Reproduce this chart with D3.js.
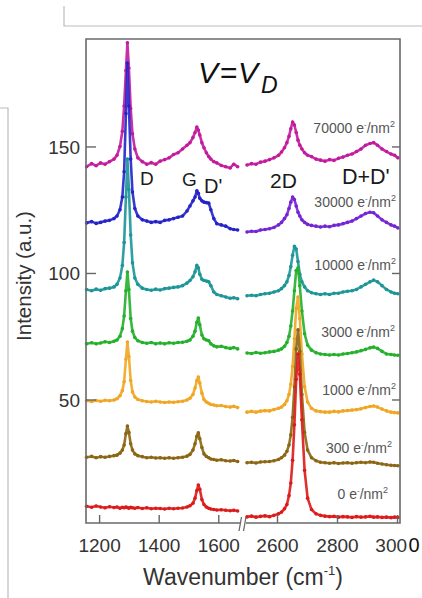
<!doctype html>
<html lang="en">
  <head>
    <meta charset="utf-8">
    <style>
body { margin: 0; background: #fff; }
svg { display: block; font-family: "Liberation Sans", Arial, sans-serif; }
.tick line { stroke: #666; stroke-width: 1.4; }
.tick text { fill: #333; font-size: 19px; }
    </style>
    <script src="https://cdn.jsdelivr.net/npm/d3@7"></script>
  </head>
  <body>
    <div id="chart"></div>
    <script>
//=============================== DATA ===================================
var wnLeft  = [1158,1175,1190,1205,1220,1235,1250,1260,1270,1278,1284,1290,1295,1300,1306,1312,1320,1330,1345,1360,1375,1390,1405,1420,1435,1450,1465,1480,1495,1505,1515,1522,1528,1533,1538,1545,1552,1560,1568,1575,1585,1595,1610,1625,1640,1652,1665]
var wnRight = [2500,2515,2530,2545,2560,2575,2590,2605,2615,2625,2633,2640,2646,2652,2658,2664,2670,2676,2683,2692,2702,2715,2730,2745,2760,2775,2790,2805,2820,2835,2850,2865,2880,2895,2910,2922,2935,2950,2965,2980,2992,3003]

var doses = ['70000', '30000', '10000', '3000', '1000', '300', '0']

var left70000 = [142.0,143.2,142.4,143.5,143.0,144.0,145.0,146.5,150.0,156.0,166.0,180.0,191.0,181.0,165.0,155.0,149.0,145.5,144.0,143.0,143.6,143.0,144.2,144.8,145.5,146.8,147.5,149.0,150.5,151.5,153.5,155.5,157.7,156.5,154.5,151.5,149.5,147.5,146.0,145.0,144.0,143.5,142.5,142.0,141.5,143.0,142.0]
var right70000 = [142.7,143.2,143.0,143.8,144.2,144.8,145.5,146.5,147.8,149.5,151.5,154.0,157.0,159.7,158.5,155.5,152.5,150.5,149.0,147.5,146.5,146.0,145.0,144.6,144.2,144.8,144.5,145.3,145.8,146.5,147.0,148.0,149.0,150.5,151.2,151.5,150.5,149.0,148.0,147.0,146.5,145.5]

var left30000 = [119.8,120.3,119.6,120.0,120.5,120.8,121.5,122.5,125.0,130.0,140.0,163.0,183.0,166.0,145.0,132.0,125.5,122.5,121.0,120.5,120.0,120.3,120.0,120.8,121.0,121.5,122.0,122.5,124.5,126.5,128.5,130.0,132.5,131.5,129.5,128.5,128.0,127.8,127.6,125.0,121.5,119.5,119.0,118.5,117.5,117.2,117.0]
var right30000 = [116.2,116.5,116.4,117.0,117.2,117.5,118.0,119.0,120.0,121.5,123.0,125.5,128.0,130.0,129.0,126.5,124.0,122.5,121.0,120.0,119.2,118.8,118.5,118.2,118.5,118.3,118.8,119.0,119.5,120.0,120.5,121.5,122.5,123.5,124.0,123.8,122.5,121.0,120.0,119.0,118.5,117.8]

var left10000 = [93.5,93.0,93.6,93.2,93.8,94.0,94.5,95.5,98.0,103.0,112.0,130.0,145.0,133.0,115.0,104.0,98.0,95.5,94.0,93.5,93.2,93.6,93.3,93.8,94.0,94.3,94.5,95.0,96.0,97.0,98.5,100.5,103.0,102.0,99.5,97.5,97.0,96.8,96.5,95.0,92.5,91.5,91.0,90.5,90.0,90.2,89.8]
var right10000 = [91.0,91.2,91.0,91.5,91.8,92.0,92.5,93.0,93.8,95.0,96.5,99.0,102.5,107.0,110.5,109.5,104.5,99.5,96.5,94.5,93.0,92.2,91.8,91.5,91.8,91.5,92.0,92.0,92.5,92.8,93.0,93.5,94.5,95.5,96.5,97.2,96.5,95.0,93.5,92.5,92.0,91.8]

var left3000 = [72.0,72.4,72.0,72.3,72.8,72.5,73.0,73.5,75.0,78.0,83.0,93.0,100.4,93.5,82.0,77.0,74.5,73.2,72.5,72.2,72.5,72.0,72.3,72.0,72.4,72.2,72.5,72.6,73.0,73.5,75.0,77.0,80.5,82.2,79.5,75.5,74.0,73.5,73.2,72.0,71.2,70.8,71.0,70.5,70.2,70.5,70.0]
var right3000 = [68.4,68.2,68.6,68.3,68.5,68.8,69.0,69.5,70.0,71.0,72.5,75.0,79.0,85.0,93.0,101.0,102.0,95.0,85.0,76.0,71.5,69.5,68.5,68.0,67.8,67.6,67.8,67.6,68.0,68.2,68.5,68.8,69.3,69.8,70.4,70.7,70.2,69.0,68.0,67.8,67.6,67.5]

var left1000 = [49.5,49.2,49.6,49.3,49.7,49.5,49.8,50.3,51.5,53.5,57.0,66.0,72.7,67.0,57.5,53.0,51.0,50.0,49.5,49.2,49.0,49.3,49.0,48.8,49.0,48.9,49.1,49.3,49.8,50.5,52.0,54.5,57.5,58.9,56.5,52.5,50.0,49.0,48.5,48.0,47.8,47.5,47.6,47.2,47.0,47.3,46.8]
var right1000 = [45.0,45.3,45.0,45.4,45.6,45.5,46.0,46.5,47.0,48.0,49.5,52.0,56.0,63.0,74.0,86.0,90.5,82.0,68.0,55.0,49.0,46.5,45.5,45.2,45.0,45.0,45.3,45.1,45.5,45.6,45.8,46.0,46.3,46.8,47.2,47.4,47.0,46.2,45.5,45.0,44.8,44.7]

var left300 = [27.2,27.5,27.0,27.4,27.2,27.5,27.8,28.0,28.8,30.0,32.0,36.5,39.5,37.0,32.5,30.0,28.5,27.8,27.4,27.0,27.2,26.9,27.0,26.8,27.0,26.8,27.0,27.2,27.6,28.3,30.0,32.5,35.5,36.8,34.5,31.0,28.5,27.5,27.0,26.5,26.3,26.0,26.2,25.8,25.7,25.9,25.5]
var right300 = [25.0,25.2,24.9,25.3,25.4,25.5,25.8,26.3,27.0,28.0,29.5,32.0,36.0,43.0,55.0,70.0,77.5,69.0,52.0,37.0,30.0,27.0,25.8,25.2,25.0,24.8,25.0,24.7,24.9,25.0,24.8,25.0,25.2,25.0,25.3,25.2,24.8,24.5,24.2,24.0,23.9,23.8]

var left0 = [7.8,7.4,7.9,7.5,7.2,7.6,7.3,7.5,7.0,7.4,7.2,7.5,7.3,7.0,7.4,7.2,7.0,7.3,6.9,7.2,6.8,7.0,6.9,6.7,7.0,6.8,7.0,7.1,7.5,8.0,9.0,11.0,14.0,16.2,14.5,10.5,8.5,7.5,7.0,6.7,6.5,6.3,6.4,6.2,6.0,6.2,5.9]
var right0 = [3.6,3.9,3.5,3.8,4.0,3.7,4.2,4.8,5.5,6.8,8.5,12.0,17.0,26.0,40.0,58.0,68.0,60.0,42.0,22.0,11.0,6.5,4.8,4.2,3.9,3.7,3.8,3.5,3.7,3.6,3.4,3.7,3.5,3.6,3.8,3.5,3.6,3.4,3.5,3.3,3.5,3.4]

var leftSeries  = [left70000, left30000, left10000, left3000, left1000, left300, left0]
var rightSeries = [right70000, right30000, right10000, right3000, right1000, right300, right0]

var colorsLeft  = ['#c21a9c', '#2323c9', '#1b9597', '#23b02a', '#f0a622', '#8b6612', '#dc1a1a']
var colorsRight = ['#c21a9c', '#7424d2', '#1b9597', '#23b02a', '#f0a622', '#8b6612', '#dc1a1a']

var yTicks = [50, 100, 150]
var xTicksLeft = [1200, 1400, 1600]
var xTicksRight = [2600, 2800, 3000]

// label layout: [x end, baseline]
var labelPos = [[395,133],[396,207],[396,270],[395,337],[396,395],[392,453],[388,499]]

//=============================== DRAW ===================================
var W = 422, H = 598
var svg = d3.select('#chart').append('svg').attr('width', W).attr('height', H)

var x0 = 86, x1 = 400, yTop = 39, yBot = 523
var xL = d3.scaleLinear().domain([1156, 1683]).range([x0, 243])
var xR = d3.scaleLinear().domain([2490, 3010]).range([244, x1])
var y  = d3.scaleLinear().domain([0, 192]).range([526, 40.2])

// page decoration lines
svg.append('path').attr('d', 'M64,6V26H422').attr('fill', 'none').attr('stroke', '#bbb').attr('stroke-width', 1.2)
svg.append('path').attr('d', 'M0,108H8V598').attr('fill', 'none').attr('stroke', '#bbb').attr('stroke-width', 1.2)

// spectra
function drawSpectrum(wn, vals, sx, color) {
	var pts = wn.map((w, i) => [sx(w), y(vals[i])])
	svg.append('path').datum(pts)
		.attr('d', d3.line())
		.attr('fill', 'none').attr('stroke', color)
		.attr('stroke-width', 2.6).attr('stroke-opacity', 0.9)
		.attr('stroke-linejoin', 'round')
	svg.append('g').selectAll('circle').data(pts).enter()
		.append('circle')
		.attr('cx', d => d[0]).attr('cy', d => d[1])
		.attr('r', 1.8).attr('fill', color)
}
doses.forEach((d, i) => {
	drawSpectrum(wnLeft, leftSeries[i], xL, colorsLeft[i])
	drawSpectrum(wnRight, rightSeries[i], xR, colorsRight[i])
})

// frame
var frame = '#6a6a6a'
svg.append('path')
	.attr('d', `M240,${yBot}H${x0}V${yTop}H${x1}V${yBot}H246`)
	.attr('fill', 'none').attr('stroke', frame).attr('stroke-width', 1.6)
svg.append('path')
	.attr('d', `M239,531L241.5,517M243.5,531L246,517`)
	.attr('fill', 'none').attr('stroke', frame).attr('stroke-width', 1.3)

// axes
var fmt = d3.format('d')
var gl = svg.append('g').attr('transform', `translate(${x0},0)`)
	.call(d3.axisLeft(y).tickValues(yTicks).tickFormat(fmt).tickSize(-10).tickPadding(6))
var gr = svg.append('g').attr('transform', `translate(${x1},0)`)
	.call(d3.axisRight(y).tickValues(yTicks).tickSize(-8).tickFormat(''))
var gbl = svg.append('g').attr('transform', `translate(0,${yBot})`)
	.call(d3.axisBottom(xL).tickValues(xTicksLeft).tickFormat(fmt).tickSize(-8).tickPadding(16))
var gbr = svg.append('g').attr('transform', `translate(0,${yBot})`)
	.call(d3.axisBottom(xR).tickValues(xTicksRight).tickFormat(fmt).tickSize(-8).tickPadding(16))
;[gl, gr, gbl, gbr].forEach(g => {
	g.select('.domain').remove()
	g.selectAll('text').attr('font-family', null).attr('font-size', null)
})
gl.selectAll('text').attr('dy', '0.36em')

// the last 0 of 3000 is printed twice (black, shifted) in the source figure
gbr.selectAll('.tick text').filter(d => d === 3000)
	.text('300')
	.append('tspan').attr('fill', '#111').attr('dx', 1.5).attr('font-size', 20).text('0')

// axis titles
svg.append('text')
	.attr('transform', 'translate(31,276) rotate(-90)')
	.attr('text-anchor', 'middle').attr('font-size', 20.5).attr('fill', '#333')
	.text('Intensity (a.u.)')
var xt = svg.append('text').attr('x', 243).attr('y', 585)
	.attr('text-anchor', 'middle').attr('font-size', 23).attr('fill', '#333')
xt.append('tspan').text('Wavenumber (cm')
xt.append('tspan').attr('font-size', 13).attr('dy', -10).text('-1')
xt.append('tspan').attr('dy', 10).text(')')

// V = V_D
var vt = svg.append('text').attr('font-size', 30).attr('font-style', 'italic').attr('fill', '#111')
vt.append('tspan').attr('x', 198).attr('y', 83).text('V')
vt.append('tspan').attr('x', 220).attr('y', 83).attr('font-style', 'normal').text('=')
vt.append('tspan').attr('x', 238).attr('y', 83).text('V')
vt.append('tspan').attr('x', 261).attr('y', 93).attr('font-size', 23).text('D')

// peak names
var peaks = [['D', 140, 185, 19], ['G', 182, 186, 19], ["D'", 204, 193, 20], ['2D', 270, 188, 21], ["D+D'", 342, 184, 21.5]]
peaks.forEach(p => {
	svg.append('text').attr('x', p[1]).attr('y', p[2])
		.attr('font-size', p[3]).attr('fill', '#1a1a1a').text(p[0])
})

// dose labels
doses.forEach((d, i) => {
	var t = svg.append('text').attr('x', labelPos[i][0]).attr('y', labelPos[i][1])
		.attr('text-anchor', 'end').attr('font-size', 14).attr('fill', '#555')
	t.append('tspan').text(d + ' e')
	t.append('tspan').attr('font-size', 8).attr('dy', -6).text('-')
	t.append('tspan').attr('dy', 6).text('/nm')
	t.append('tspan').attr('font-size', 9).attr('dy', -6).text('2')
})
    </script>
  </body>
</html>
